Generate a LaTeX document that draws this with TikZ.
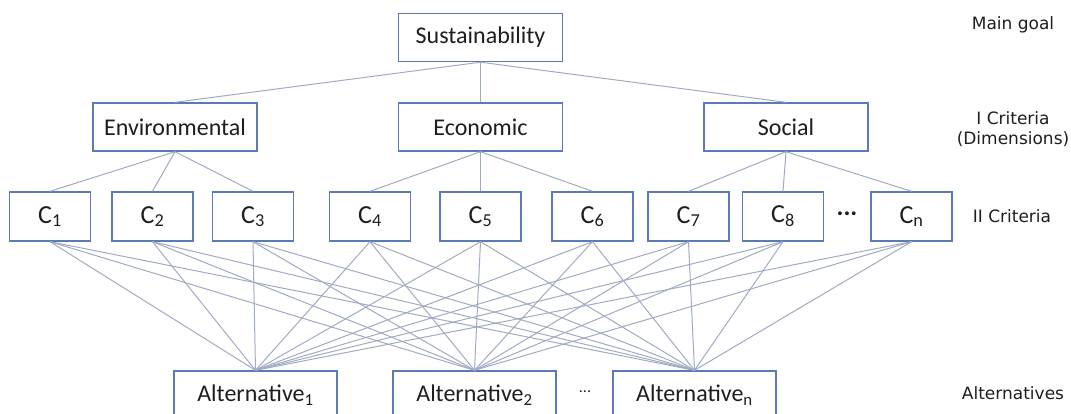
\documentclass[tikz,border=0pt]{standalone}
\usepackage{fontspec}
\setmainfont{Carlito}
\newfontfamily\labelfont{DejaVu Sans}
\definecolor{boxblue}{RGB}{92,122,182}
\definecolor{linkgray}{RGB}{160,170,194}
\definecolor{inkgray}{RGB}{30,30,30}
\tikzset{
  hbox/.style={draw=boxblue, line width=1.4pt, fill=white, inner sep=0pt,
    text=inkgray, font=\fontsize{24}{26}\selectfont},
  bigbox/.style={hbox, minimum width=164pt, minimum height=48pt},
  cbox/.style={hbox, minimum width=81pt, minimum height=49pt,
    font=\fontsize{26}{28}\selectfont},
  altbox/.style={hbox, minimum width=163pt, minimum height=48pt},
  link/.style={draw=linkgray, line width=1pt},
  levellabel/.style={text=inkgray, font=\labelfont\fontsize{17}{19.5}\selectfont,
    align=center, inner sep=0pt}
}
\begin{document}
\begin{tikzpicture}[x=1pt,y=-1pt]
\useasboundingbox (0,0) rectangle (1071,414);
\clip (0,0) rectangle (1071,414);

% goal and dimensions
\node[bigbox] (goal) at (480.5,37.5) {Sustainability};
\node[bigbox] (env) at (175,127) {Environmental};
\node[bigbox] (eco) at (480.5,127) {Economic};
\node[bigbox] (soc) at (786,127) {Social};

% second-level criteria
\node[cbox] (c1) at (50,216.5) {C\textsubscript{1}};
\node[cbox] (c2) at (152.5,216.5) {C\textsubscript{2}};
\node[cbox] (c3) at (253,216.5) {C\textsubscript{3}};
\node[cbox] (c4) at (370,216.5) {C\textsubscript{4}};
\node[cbox] (c5) at (480.5,216.5) {C\textsubscript{5}};
\node[cbox] (c6) at (592.5,216.5) {C\textsubscript{6}};
\node[cbox] (c7) at (688.5,216.5) {C\textsubscript{7}};
\node[cbox] (c8) at (783,216.5) {C\textsubscript{8}};
\node[cbox] (cn) at (911.5,216.5) {C\textsubscript{n}};
\node[text=inkgray, font=\fontsize{26}{28}\selectfont\bfseries, inner sep=0pt] (cdots) at (847,214) {...};

% alternatives
\node[altbox] (a1) at (255.5,395) {Alternative\textsubscript{1}};
\node[altbox] (a2) at (474.5,395) {Alternative\textsubscript{2}};
\node[altbox] (an) at (694.5,395) {Alternative\textsubscript{n}};
\node[text=inkgray, font=\fontsize{16}{18}\selectfont, inner sep=0pt] (adots) at (585,392) {...};

% level labels
\node[levellabel] (lgoal) at (1013,25) {Main goal};
\node[levellabel] (ldim) at (1013,129) {I Criteria\\(Dimensions)};
\node[levellabel] (lcrit) at (1012,216) {II Criteria};
\node[levellabel] (lalt) at (1013,393) {Alternatives};

% hierarchy links
\foreach \d in {env,eco,soc} \draw[link] (goal.south) -- (\d.north);
\foreach \c in {c1,c2,c3} \draw[link] (env.south) -- (\c.north);
\foreach \c in {c4,c5,c6} \draw[link] (eco.south) -- (\c.north);
\foreach \c in {c7,c8,cn} \draw[link] (soc.south) -- (\c.north);
\foreach \c in {c1,c2,c3,c4,c5,c6,c7,c8,cn}
  \foreach \a in {a1,a2,an}
    \draw[link] (\c.south) -- (\a.north);
\end{tikzpicture}
\end{document}
